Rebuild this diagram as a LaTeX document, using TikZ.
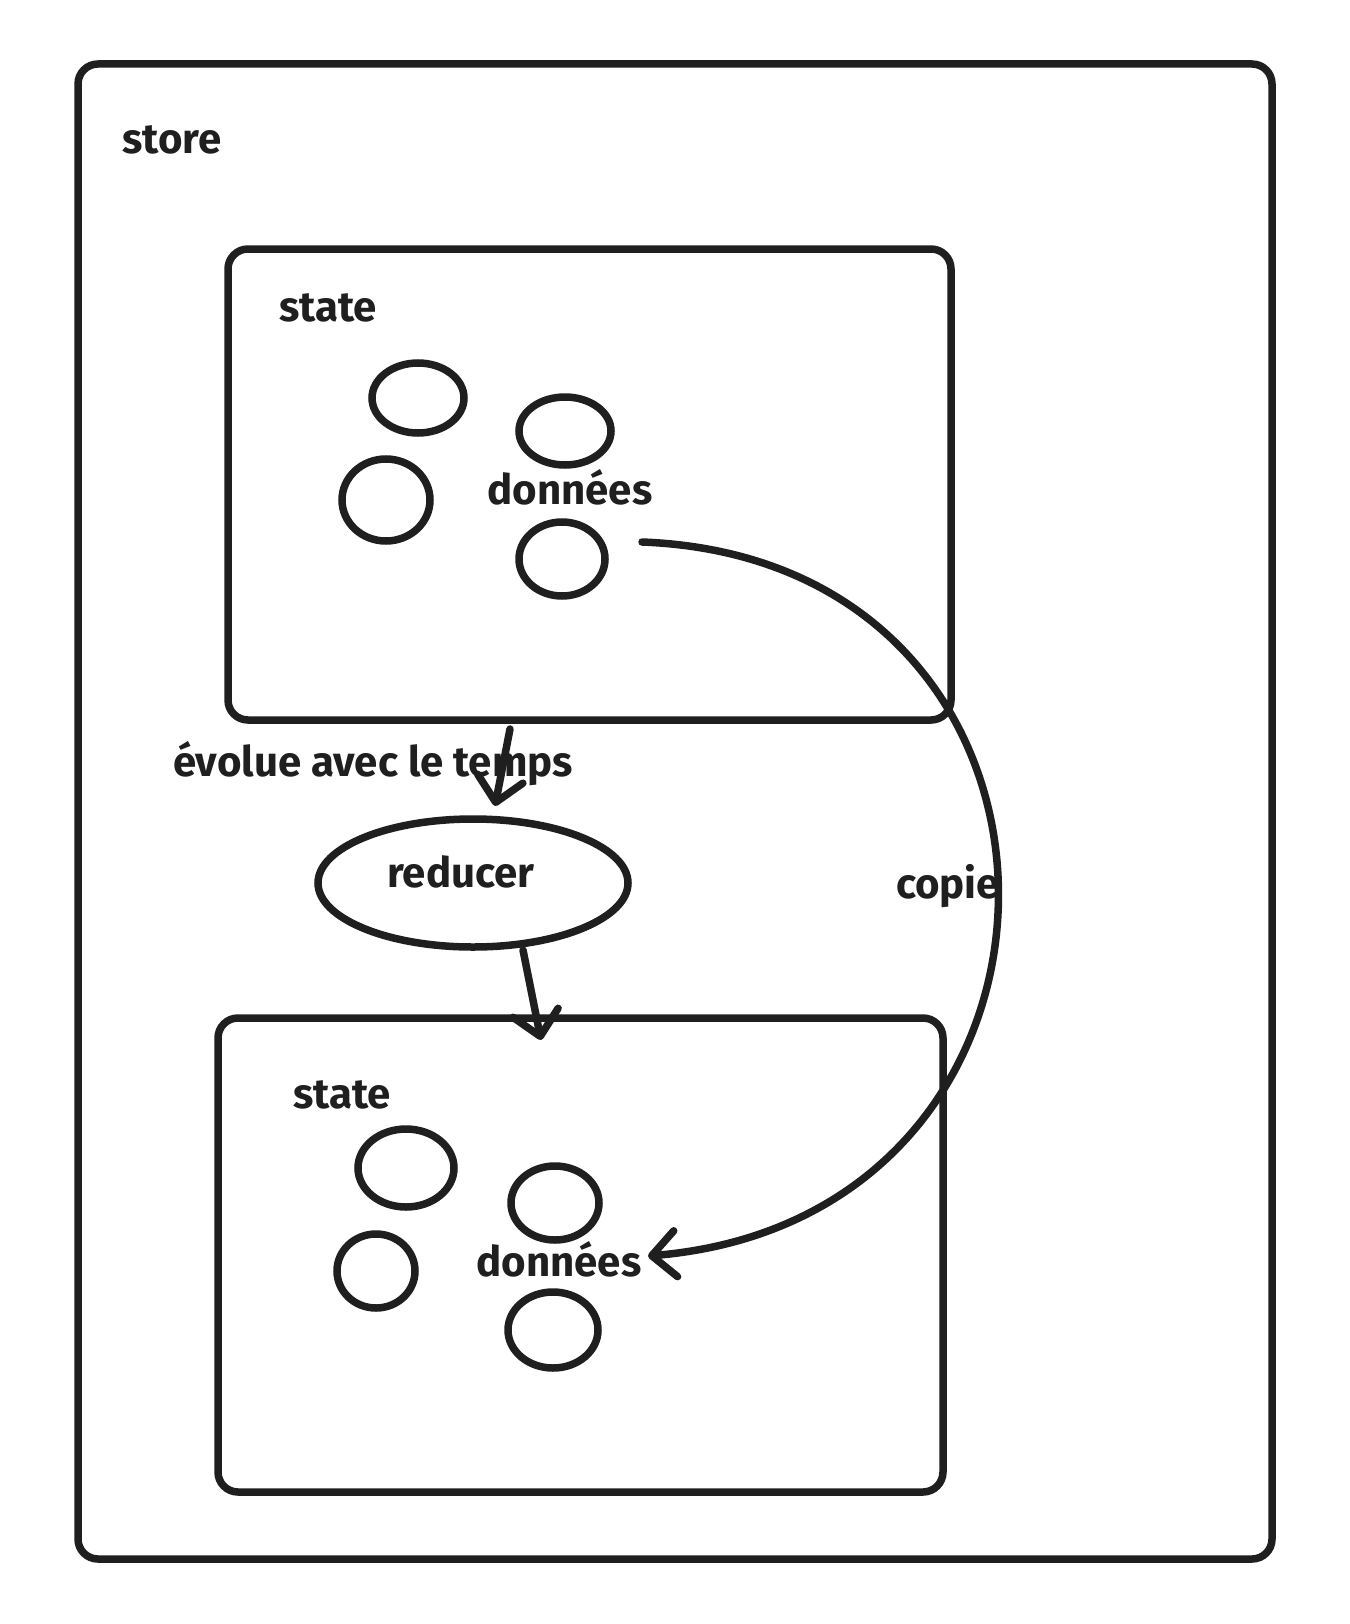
\documentclass[tikz,border=0pt]{standalone}
\usepackage{fontspec}
\setmainfont{Fira Sans}
\usepackage{tikz}
\usetikzlibrary{positioning,arrows.meta,shapes.geometric}

\begin{document}
\begin{tikzpicture}[
    x=1pt, y=-1pt,
    line width=7.5pt, draw=black!88,
    box/.style={draw=black!88, rounded corners=20pt},
    blob/.style={draw=black!88, ellipse, inner sep=0pt},
    lbl/.style={font=\fontsize{42}{46}\selectfont\bfseries, text=black!88, inner sep=0pt},
    arr/.style={-{Straight Barb[length=24pt,width=46pt,line cap=round,line join=round]}, line cap=round}
]
\useasboundingbox (0,0) rectangle (1349,1624);
% store
\draw[box] (78,64) rectangle (1272,1559);
\node[lbl] (store) at (172,140) {store};
% state du haut
\draw[box] (228,249) rectangle (951,720);
\node[lbl] (stateA) at (328,308) {state};
\node[blob, minimum width=92pt, minimum height=70pt] (a1) at (418,398) {};
\node[blob, minimum width=92pt, minimum height=68pt] (a2) at (565,431) {};
\node[blob, minimum width=88pt, minimum height=82pt] (a3) at (386,500) {};
\node[blob, minimum width=86pt, minimum height=74pt] (a4) at (562,559) {};
\node[lbl] (donA) at (570,487) {données};
% reducer
\node[lbl] (evolue) at (373,764) {évolue avec le temps};
\node[blob, minimum width=310pt, minimum height=128pt] (reducer) at (473,883) {};
\node[lbl] at (461,872) {reducer};
\coordinate (aout) at (510,729);
\coordinate (ain) at (495,806);
\draw[arr] (aout) -- (ain);
% state du bas
\draw[box] (218,1018) rectangle (943,1492);
\coordinate (rout) at (523,950);
\coordinate (rin) at (541,1040);
\draw[arr] (rout) -- (rin);
\node[lbl] (stateB) at (342,1095) {state};
\node[blob, minimum width=96pt, minimum height=78pt] (b1) at (406,1168) {};
\node[blob, minimum width=88pt, minimum height=74pt] (b2) at (555,1203) {};
\node[blob, minimum width=78pt, minimum height=74pt] (b3) at (376,1271) {};
\node[blob, minimum width=90pt, minimum height=76pt] (b4) at (553,1330) {};
\node[lbl] (donB) at (559,1259) {données};
% copie
\node[lbl] (copie) at (948,886) {copie};
\coordinate (src) at (642,542);
\coordinate (dst) at (648,1256);
\draw[arr] (src) .. controls (1115,560) and (1115,1217) .. (dst);
\end{tikzpicture}
\end{document}
